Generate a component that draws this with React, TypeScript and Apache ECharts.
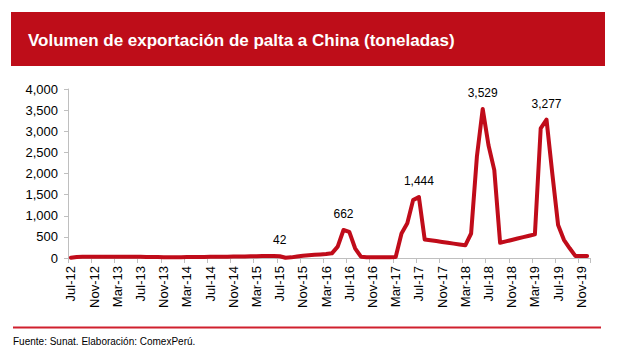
import React, { useEffect, useRef } from "react";
import * as echarts from "echarts";

const titleText = "Volumen de exportación de palta a China (toneladas)";
const sourceText = "Fuente: Sunat. Elaboración: ComexPerú.";

const categories: string[] = [
  "Jul-12", "Aug-12", "Sep-12", "Oct-12", "Nov-12", "Dec-12",
  "Jan-13", "Feb-13", "Mar-13", "Apr-13", "May-13", "Jun-13", "Jul-13", "Aug-13", "Sep-13", "Oct-13", "Nov-13", "Dec-13",
  "Jan-14", "Feb-14", "Mar-14", "Apr-14", "May-14", "Jun-14", "Jul-14", "Aug-14", "Sep-14", "Oct-14", "Nov-14", "Dec-14",
  "Jan-15", "Feb-15", "Mar-15", "Apr-15", "May-15", "Jun-15", "Jul-15", "Aug-15", "Sep-15", "Oct-15", "Nov-15", "Dec-15",
  "Jan-16", "Feb-16", "Mar-16", "Apr-16", "May-16", "Jun-16", "Jul-16", "Aug-16", "Sep-16", "Oct-16", "Nov-16", "Dec-16",
  "Jan-17", "Feb-17", "Mar-17", "Apr-17", "May-17", "Jun-17", "Jul-17", "Aug-17", "Sep-17", "Oct-17", "Nov-17", "Dec-17",
  "Jan-18", "Feb-18", "Mar-18", "Apr-18", "May-18", "Jun-18", "Jul-18", "Aug-18", "Sep-18", "Oct-18", "Nov-18", "Dec-18",
  "Jan-19", "Feb-19", "Mar-19", "Apr-19", "May-19", "Jun-19", "Jul-19", "Aug-19", "Sep-19", "Oct-19", "Nov-19", "Dec-19",
];

const volumes: number[] = [
  5, 25, 30, 30, 30, 30,
  30, 30, 30, 30, 30, 28, 28, 25, 25, 22, 20, 18,
  18, 20, 22, 22, 25, 25, 28, 30, 30, 32, 35, 35,
  38, 40, 42, 45, 48, 50, 42, 5, 15, 35, 55, 65,
  75, 85, 95, 110, 270, 662, 620, 230, 30, 20, 20, 20,
  20, 20, 25, 580, 820, 1370, 1444, 440, 420, 400, 380, 360,
  340, 320, 300, 580, 2400, 3529, 2670, 2080, 360, 393, 427, 460,
  493, 527, 560, 3070, 3277, 2000, 780, 430, 230, 45, 45, 45,
];

const labeledMonths: string[] = ["Jul-15", "Jun-16", "Jul-17", "Jun-18", "May-19"];

const yTicks = { min: 0, max: 4000, interval: 500 };

const FONT = "'Liberation Sans', Arial, sans-serif";
const RED = "#C00C1A";

export default function App() {
  const ref = useRef<HTMLDivElement>(null);

  useEffect(() => {
    document.body.style.margin = "0";
    if (!ref.current) return;
    const chart = echarts.init(ref.current, undefined, { renderer: "svg" });

    const seriesData = volumes.map((v, i) => {
      if (labeledMonths.includes(categories[i])) {
        return { value: v, label: { show: true } };
      }
      return v;
    });

    chart.setOption({
      animation: false,
      backgroundColor: "#ffffff",
      textStyle: { fontFamily: FONT },
      grid: { left: 68, right: 28, top: 89, bottom: 101, containLabel: false },
      graphic: [
        {
          type: "rect",
          shape: { x: 11, y: 12, width: 594, height: 54 },
          style: { fill: "#BE0D19" },
          silent: true,
        },
        {
          type: "text",
          x: 28,
          y: 40,
          style: {
            text: titleText,
            fill: "#ffffff",
            font: `bold 17px ${FONT}`,
            verticalAlign: "middle",
            align: "left",
          },
          silent: true,
        },
        {
          type: "rect",
          shape: { x: 13, y: 326.5, width: 588, height: 2 },
          style: { fill: "#D0202E" },
          silent: true,
        },
        {
          type: "text",
          x: 13,
          y: 341,
          style: {
            text: sourceText,
            fill: "#000000",
            font: `10px ${FONT}`,
            verticalAlign: "middle",
            align: "left",
          },
          silent: true,
        },
      ],
      xAxis: {
        type: "category",
        data: categories,
        boundaryGap: true,
        axisLine: { show: true, lineStyle: { color: "#BFBFBF", width: 1 } },
        axisTick: { show: true, interval: 3, length: 5, alignWithLabel: false, lineStyle: { color: "#BFBFBF" } },
        axisLabel: {
          interval: 3,
          rotate: 90,
          margin: 8,
          fontSize: 13,
          color: "#000000",
          fontFamily: FONT,
        },
        splitLine: { show: false },
      },
      yAxis: {
        type: "value",
        min: yTicks.min,
        max: yTicks.max,
        interval: yTicks.interval,
        axisLine: { show: true, lineStyle: { color: "#BFBFBF", width: 1 } },
        axisTick: { show: true, length: 4, lineStyle: { color: "#BFBFBF" } },
        axisLabel: {
          fontSize: 13,
          color: "#000000",
          margin: 10,
          fontFamily: FONT,
          formatter: (v: number) => v.toLocaleString("en-US"),
        },
        splitLine: { show: false },
      },
      series: [
        {
          type: "line",
          data: seriesData,
          symbol: "circle",
          symbolSize: 2,
          showSymbol: true,
          showAllSymbol: true,
          lineStyle: { color: RED, width: 4, join: "round", cap: "round" },
          itemStyle: { color: RED, borderWidth: 0 },
          label: {
            show: false,
            position: "top",
            distance: 9,
            fontSize: 12,
            color: "#000000",
            fontFamily: FONT,
            formatter: (p: any) => Number(p.value).toLocaleString("en-US"),
          },
        },
      ],
    });

    return () => chart.dispose();
  }, []);

  return <div ref={ref} style={{ width: 618, height: 359 }} />;
}
